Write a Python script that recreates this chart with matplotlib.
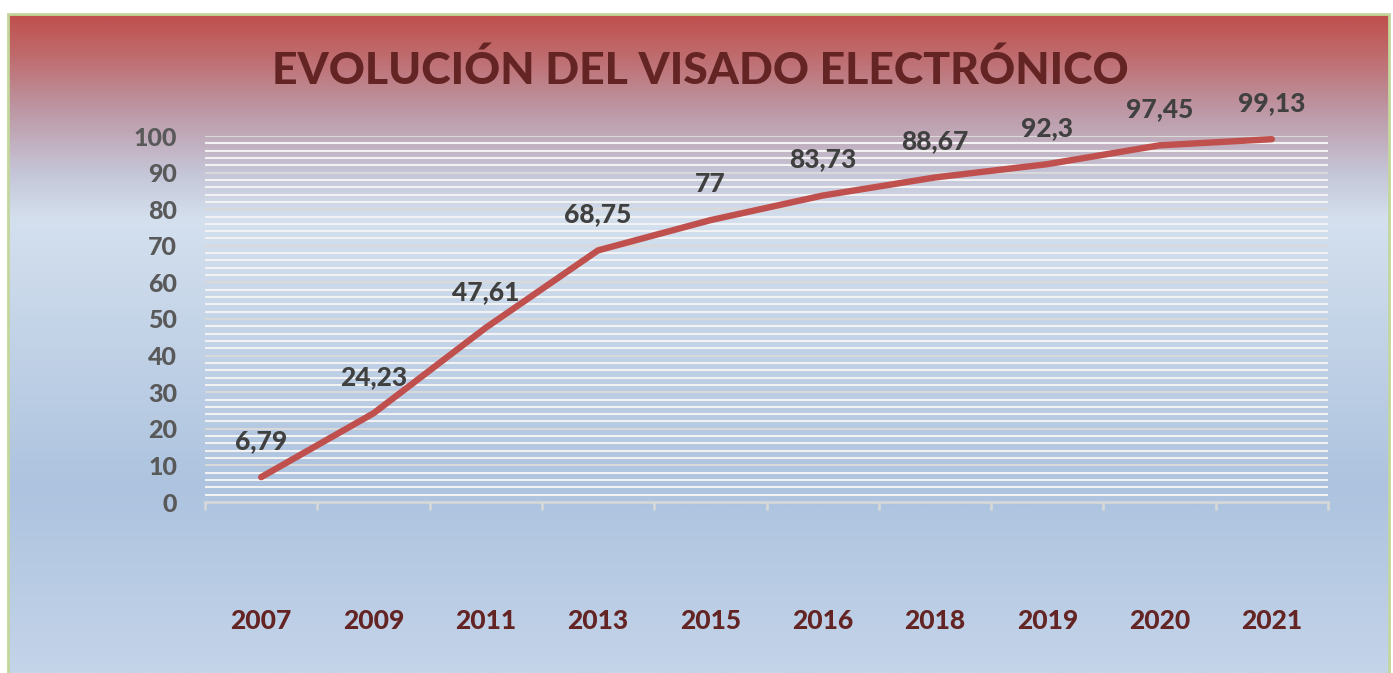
import numpy as np
import matplotlib
matplotlib.use("Agg")
import matplotlib.pyplot as plt
from matplotlib.colors import LinearSegmentedColormap
from matplotlib.patches import Rectangle

years = ["2007", "2009", "2011", "2013", "2015", "2016", "2018", "2019", "2020", "2021"]
values = [6.79, 24.23, 47.61, 68.75, 77, 83.73, 88.67, 92.3, 97.45, 99.13]
labels = ["6,79", "24,23", "47,61", "68,75", "77", "83,73", "88,67", "92,3", "97,45", "99,13"]
title = "EVOLUCIÓN DEL VISADO ELECTRÓNICO"

W, H = 1393, 673
fig = plt.figure(figsize=(W / 100, H / 100), dpi=100)
fig.patch.set_facecolor("white")

# background gradient panel
bx0, by_top = 8, 14
bg = fig.add_axes([bx0 / W, 0, (1389 - bx0) / W, (H - by_top) / H], zorder=0)
stops = [(0.0, "#c0504d"), (0.06, "#bf6b6d"), (0.14, "#bd95a2"), (0.24, "#c5c6d8"),
         (0.31, "#d4e0ee"), (0.72, "#adc3df"), (1.0, "#c4d4e9")]
cmap = LinearSegmentedColormap.from_list("bg", stops)
grad = np.linspace(0, 1, 600).reshape(-1, 1)
bg.imshow(grad, aspect="auto", cmap=cmap, extent=[0, 1, 0, 1], origin="upper")
bg.set_xlim(0, 1)
bg.set_ylim(0, 1)
bg.axis("off")
bg.add_patch(Rectangle((0, -0.01), 1, 1.01, fill=False, edgecolor="#c3d69b", lw=2.0,
                       transform=bg.transAxes, clip_on=False))

font = "Lato"
heavy = 900

ax = fig.add_axes([205 / W, 1 - 502 / H, (1328 - 205) / W, (502 - 136) / H], zorder=2)
ax.patch.set_alpha(0)
x = np.arange(len(years))
ax.set_xlim(-0.5, len(years) - 0.5)
ax.set_ylim(0, 100)

# gridlines every 2 units
for v in range(2, 101, 2):
    col = "#d9d9d9" if v % 10 == 0 else "#f2f2f2"
    ax.axhline(v, color=col, lw=1.5, zorder=1)

ax.plot(x, values, color="#c0504d", lw=4.6, solid_capstyle="round",
        solid_joinstyle="round", zorder=3)

for xi, v, lab in zip(x, values, labels):
    ax.annotate(lab, (xi, v), xytext=(0, 26), textcoords="offset points",
                ha="center", va="center", fontsize=19, fontweight=heavy,
                color="#404040", family=font, zorder=4)

for s in ["top", "right", "left"]:
    ax.spines[s].set_visible(False)
ax.spines["bottom"].set_color("#d9d9d9")
ax.spines["bottom"].set_linewidth(1.8)

ax.set_yticks(range(0, 101, 10))
ax.set_yticklabels([str(v) for v in range(0, 101, 10)], fontsize=18,
                   fontweight=heavy, color="#595959", family=font)
ax.tick_params(axis="y", length=0, pad=20)

ax.set_xticks(x)
ax.set_xticklabels(years, fontsize=19, fontweight=heavy, color="#632423", family=font)
ax.tick_params(axis="x", which="major", length=0, pad=77)
ax.set_xticks(np.arange(-0.5, len(years)), minor=True)
ax.tick_params(axis="x", which="minor", length=6, width=1.8, color="#d9d9d9")

fig.text(700 / W, 1 - 70 / H, title, ha="center", va="center", fontsize=32,
         fontweight=heavy, color="#632423", family=font)

fig.savefig("out.png", dpi=100)
